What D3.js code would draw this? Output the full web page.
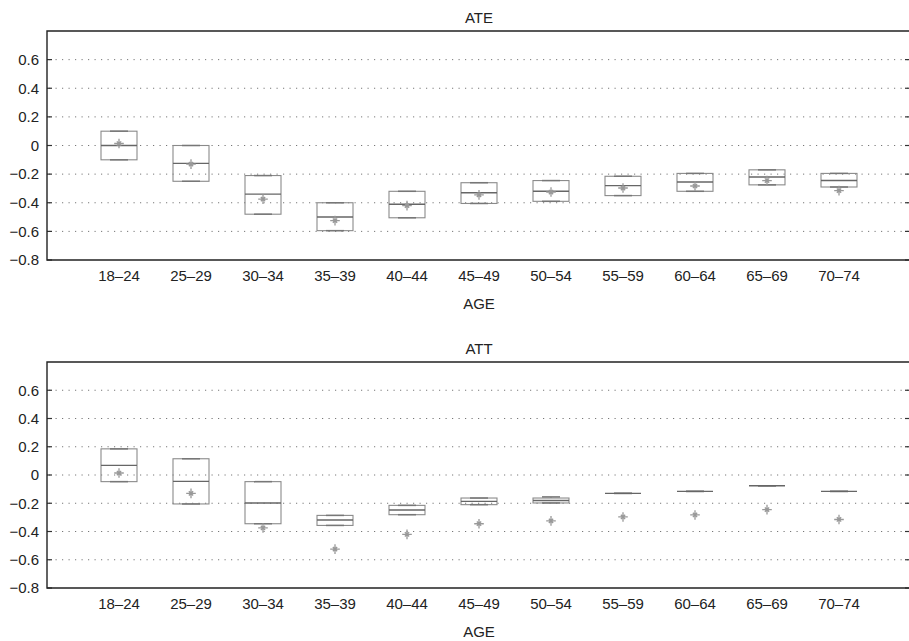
<!DOCTYPE html>
<html>
<head>
<meta charset="utf-8">
<script src="https://cdn.jsdelivr.net/npm/d3@7"></script>
<style>
  body { margin: 0; background: #fff; }
  svg { display: block; font-family: "Liberation Sans", Arial, sans-serif; }
</style>
</head>
<body>
<svg width="909" height="641"></svg>
<script>
const ages = ['18–24', '25–29', '30–34', '35–39', '40–44', '45–49', '50–54', '55–59', '60–64', '65–69', '70–74'];
const yTicks = [-0.8, -0.6, -0.4, -0.2, 0, 0.2, 0.4, 0.6];

// mean effect (stars), same in both panels
const meanEffect = [0.014, -0.13, -0.375, -0.525, -0.42, -0.345, -0.325, -0.297, -0.283, -0.245, -0.315];

// ATE boxes
const ateLo  = [-0.10, -0.25, -0.48, -0.595, -0.505, -0.405, -0.39, -0.35, -0.32, -0.275, -0.29];
const ateQ1  = [-0.10, -0.25, -0.48, -0.595, -0.505, -0.405, -0.39, -0.35, -0.32, -0.275, -0.29];
const ateMed = [0.00, -0.125, -0.34, -0.50, -0.41, -0.33, -0.32, -0.28, -0.255, -0.22, -0.245];
const ateQ3  = [0.10, 0.00, -0.21, -0.40, -0.32, -0.26, -0.245, -0.215, -0.195, -0.17, -0.195];
const ateHi  = [0.10, 0.00, -0.21, -0.40, -0.32, -0.26, -0.245, -0.215, -0.195, -0.17, -0.195];

// ATT boxes
const attLo  = [-0.047, -0.205, -0.345, -0.357, -0.281, -0.21, -0.198, -0.13, -0.116, -0.076, -0.116];
const attQ1  = [-0.047, -0.205, -0.345, -0.357, -0.281, -0.21, -0.198, -0.13, -0.116, -0.076, -0.116];
const attMed = [0.068, -0.045, -0.198, -0.319, -0.248, -0.187, -0.18, -0.13, -0.116, -0.076, -0.116];
const attQ3  = [0.185, 0.115, -0.047, -0.286, -0.215, -0.163, -0.163, -0.13, -0.116, -0.076, -0.116];
const attHi  = [0.185, 0.115, -0.047, -0.286, -0.215, -0.163, -0.155, -0.13, -0.116, -0.076, -0.116];

const svg = d3.select('svg');

let x = d3.scaleLinear().domain([0, ages.length + 1]).range([47, 911]);
const boxW = x(0.5) - x(0);
const capW = x(0.25) - x(0);

// matlab style '*' marker
function starPath(r) {
  let d = r * 0.45;
  return `M${-r},0L${r},0M0,${-r}L0,${r}M${-d},${-d}L${d},${d}M${-d},${d}L${d},${-d}`;
}

function drawPanel(title, top, bottom, lo, q1, med, q3, hi, means) {
  let y = d3.scaleLinear().domain([-0.8, 0.8]).range([bottom, top]);
  let g = svg.append('g');

  // dotted grid
  g.selectAll('.grid')
    .data(yTicks.filter(t => t > -0.8))
    .join('line')
    .attr('x1', x(0) + 2).attr('x2', x(ages.length + 1) - 2)
    .attr('y1', d => y(d)).attr('y2', d => y(d))
    .attr('stroke', '#777')
    .attr('stroke-width', 1)
    .attr('stroke-dasharray', '1.2,5.3');

  // left axis with inward ticks
  let left = d3.axisLeft(y).tickValues(yTicks).tickSize(0).tickPadding(8)
    .tickFormat(d => d === 0 ? '0' : d3.format('.1f')(d).replace('-', '\u2212'));
  g.append('g')
    .attr('transform', `translate(${x(0)},0)`)
    .call(left)
    .call(a => a.select('.domain').remove())
    .call(a => a.selectAll('text').attr('font-size', 15).attr('fill', '#222'));

  g.selectAll('.ltick')
    .data(yTicks)
    .join('line')
    .attr('x1', x(0)).attr('x2', x(0) + 5)
    .attr('y1', d => y(d)).attr('y2', d => y(d))
    .attr('stroke', '#333').attr('stroke-width', 1.2);

  g.selectAll('.rtick')
    .data(yTicks)
    .join('line')
    .attr('x1', x(ages.length + 1) - 6).attr('x2', x(ages.length + 1))
    .attr('y1', d => y(d)).attr('y2', d => y(d))
    .attr('stroke', '#333').attr('stroke-width', 1.2);

  // frame
  g.append('path')
    .attr('d', `M${x(ages.length + 1)},${top}H${x(0)}V${bottom}H${x(ages.length + 1)}`)
    .attr('fill', 'none')
    .attr('stroke', '#222')
    .attr('stroke-width', 1.4);

  // category labels
  g.selectAll('.xlab')
    .data(ages)
    .join('text')
    .attr('x', (d, i) => x(i + 1))
    .attr('y', bottom + 21)
    .attr('text-anchor', 'middle')
    .attr('font-size', 15)
    .attr('fill', '#222')
    .text(d => d);

  // boxes
  ages.forEach((a, i) => {
    let cx = x(i + 1);
    g.append('rect')
      .attr('x', cx - boxW / 2)
      .attr('y', y(q3[i]))
      .attr('width', boxW)
      .attr('height', Math.max(0, y(q1[i]) - y(q3[i])))
      .attr('fill', 'none')
      .attr('stroke', '#8a8a8a')
      .attr('stroke-width', 1.1);

    // whiskers
    g.append('line')
      .attr('x1', cx).attr('x2', cx)
      .attr('y1', y(hi[i])).attr('y2', y(q3[i]))
      .attr('stroke', '#8a8a8a').attr('stroke-dasharray', '3,2');
    g.append('line')
      .attr('x1', cx).attr('x2', cx)
      .attr('y1', y(q1[i])).attr('y2', y(lo[i]))
      .attr('stroke', '#8a8a8a').attr('stroke-dasharray', '3,2');

    [lo[i], hi[i]].forEach(v => {
      g.append('line')
        .attr('x1', cx - capW / 2).attr('x2', cx + capW / 2)
        .attr('y1', y(v)).attr('y2', y(v))
        .attr('stroke', '#777').attr('stroke-width', 1.5);
    });

    g.append('line')
      .attr('x1', cx - boxW / 2).attr('x2', cx + boxW / 2)
      .attr('y1', y(med[i])).attr('y2', y(med[i]))
      .attr('stroke', '#666').attr('stroke-width', 1.4);

    g.append('path')
      .attr('d', starPath(4.8))
      .attr('transform', `translate(${cx},${y(means[i])})`)
      .attr('fill', 'none')
      .attr('stroke', '#999')
      .attr('stroke-width', 1.3);
  });

  // title + x label
  svg.append('text')
    .attr('x', (x(0) + x(ages.length + 1)) / 2)
    .attr('y', top - 8.5)
    .attr('text-anchor', 'middle')
    .attr('font-size', 15)
    .attr('fill', '#222')
    .text(title);

  svg.append('text')
    .attr('x', (x(0) + x(ages.length + 1)) / 2)
    .attr('y', bottom + 48.5)
    .attr('text-anchor', 'middle')
    .attr('font-size', 15)
    .attr('fill', '#222')
    .text('AGE');
}

drawPanel('ATE', 31, 260, ateLo, ateQ1, ateMed, ateQ3, ateHi, meanEffect);
drawPanel('ATT', 362, 588, attLo, attQ1, attMed, attQ3, attHi, meanEffect);
</script>
</body>
</html>
